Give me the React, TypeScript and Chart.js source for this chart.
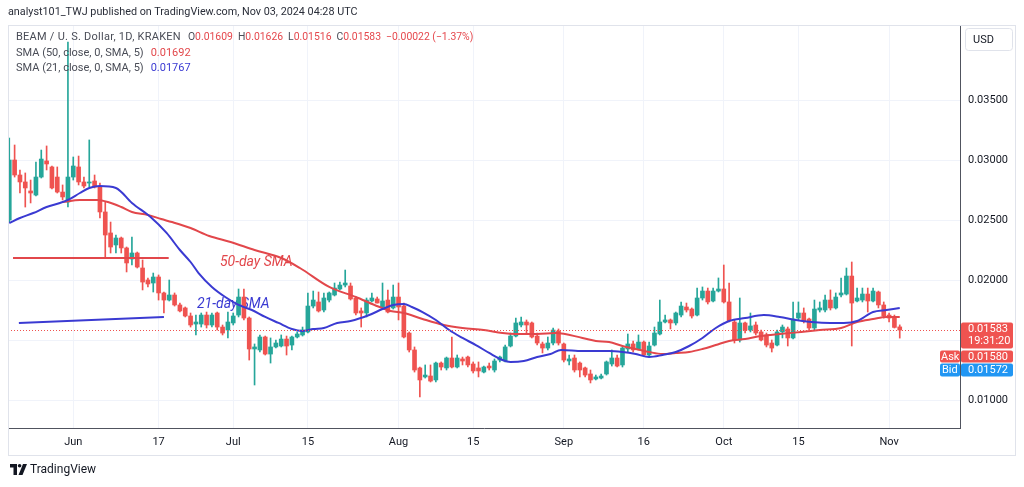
import React, { useEffect, useRef } from 'react';
import { Chart, registerables } from 'chart.js';

Chart.register(...registerables);

// Day index 0 = Jun 1, 2024. First visible candle is May 20 (day -12).
const FIRST_DAY = -12;

const openP = [
  0.025, 0.03, 0.02875, 0.02817, 0.02742, 0.02708, 0.02858, 0.02992, 0.02942, 0.02858,
  0.02733, 0.0265, 0.02858, 0.02942, 0.02817, 0.02808, 0.02825, 0.02775, 0.02567, 0.02392,
  0.02292, 0.0235, 0.02267, 0.02175, 0.02225, 0.021, 0.02, 0.01975, 0.02025, 0.01892,
  0.01833, 0.01875, 0.01792, 0.01767, 0.017, 0.01633, 0.01633, 0.01708, 0.01625, 0.01725,
  0.01608, 0.01583, 0.01642, 0.01708, 0.01858, 0.01683, 0.01425, 0.01417, 0.01525, 0.01383,
  0.01442, 0.0145, 0.01508, 0.01458, 0.01525, 0.01542, 0.01567, 0.01783, 0.01817, 0.0175,
  0.01833, 0.01875, 0.01925, 0.01958, 0.0195, 0.0185, 0.01742, 0.01725, 0.01825, 0.01842,
  0.01775, 0.01833, 0.01767, 0.01858, 0.01783, 0.01558, 0.01417, 0.01267, 0.01192, 0.012,
  0.01167, 0.01308, 0.01267, 0.0135, 0.01275, 0.01342, 0.01358, 0.013, 0.01267, 0.01233,
  0.01283, 0.0125, 0.01333, 0.01325, 0.0145, 0.01533, 0.01625, 0.0165, 0.01642, 0.01533,
  0.01467, 0.01433, 0.01475, 0.01575, 0.01467, 0.01325, 0.0135, 0.01308, 0.01267, 0.01217,
  0.01175, 0.01183, 0.01217, 0.013, 0.0135, 0.01292, 0.01425, 0.01467, 0.01425, 0.01483,
  0.01375, 0.01458, 0.0155, 0.0165, 0.01667, 0.01642, 0.01708, 0.01775, 0.01758, 0.01708,
  0.0185, 0.01908, 0.01825, 0.01908, 0.01925, 0.01817, 0.0165, 0.015, 0.01642, 0.01583,
  0.01625, 0.01567, 0.01542, 0.01475, 0.01458, 0.01567, 0.01592, 0.01517, 0.01683, 0.01725,
  0.01675, 0.016, 0.0175, 0.0175, 0.01833, 0.01767, 0.01875, 0.01883, 0.02033, 0.01825,
  0.01833, 0.01883, 0.01825, 0.019, 0.01792, 0.01708, 0.01683, 0.01609,
];
const highP = [
  0.03183, 0.03125, 0.02917, 0.02892, 0.02833, 0.02983, 0.03083, 0.03117, 0.0295, 0.02942,
  0.02792, 0.03983, 0.03025, 0.03033, 0.02858, 0.03167, 0.02875, 0.02808, 0.0265, 0.02483,
  0.02375, 0.02358, 0.02275, 0.02358, 0.02233, 0.02167, 0.02017, 0.02058, 0.02042, 0.019,
  0.02, 0.01892, 0.01808, 0.01775, 0.01725, 0.01708, 0.01725, 0.01733, 0.01725, 0.01733,
  0.01625, 0.01733, 0.01725, 0.01925, 0.01925, 0.01692, 0.01467, 0.01542, 0.01533, 0.01517,
  0.015, 0.01542, 0.01533, 0.01533, 0.01567, 0.01608, 0.01892, 0.01908, 0.019, 0.01892,
  0.019, 0.01975, 0.01983, 0.02083, 0.01975, 0.01858, 0.01767, 0.0185, 0.01892, 0.01858,
  0.01975, 0.01917, 0.01958, 0.01975, 0.01808, 0.01567, 0.01442, 0.01275, 0.01292, 0.01292,
  0.01317, 0.01317, 0.01358, 0.01525, 0.01375, 0.01358, 0.01367, 0.01317, 0.01317, 0.01283,
  0.01308, 0.01342, 0.01367, 0.01458, 0.01558, 0.01683, 0.01692, 0.01667, 0.0165, 0.01558,
  0.01483, 0.01525, 0.016, 0.01592, 0.01475, 0.01375, 0.01375, 0.01317, 0.01275, 0.0125,
  0.01208, 0.01217, 0.01325, 0.01417, 0.01375, 0.01442, 0.0155, 0.01492, 0.01542, 0.01492,
  0.01483, 0.01608, 0.01833, 0.01708, 0.01675, 0.01733, 0.01817, 0.01808, 0.01767, 0.01933,
  0.01942, 0.01933, 0.01933, 0.02017, 0.02125, 0.01975, 0.01667, 0.0185, 0.0165, 0.01725,
  0.0165, 0.01583, 0.01558, 0.015, 0.01583, 0.01625, 0.01608, 0.01817, 0.01817, 0.01767,
  0.01683, 0.01833, 0.01817, 0.01875, 0.01917, 0.01892, 0.02017, 0.021, 0.0215, 0.01933,
  0.01933, 0.01933, 0.01933, 0.01908, 0.01817, 0.01725, 0.01708, 0.01626,
];
const lowP = [
  0.02483, 0.02858, 0.02725, 0.02608, 0.02642, 0.027, 0.0285, 0.02917, 0.02758, 0.02725,
  0.02667, 0.02608, 0.02833, 0.02792, 0.02767, 0.02775, 0.02767, 0.02517, 0.02192, 0.02225,
  0.02225, 0.02225, 0.02067, 0.02125, 0.021, 0.01917, 0.01942, 0.019, 0.01833, 0.01725,
  0.01825, 0.01783, 0.01733, 0.01692, 0.01608, 0.01542, 0.01608, 0.016, 0.01608, 0.01583,
  0.01542, 0.01517, 0.01625, 0.01692, 0.01667, 0.01333, 0.01125, 0.014, 0.01375, 0.01308,
  0.01433, 0.01442, 0.01375, 0.01417, 0.01517, 0.01533, 0.01558, 0.01767, 0.01733, 0.01733,
  0.01817, 0.01867, 0.01917, 0.01942, 0.01833, 0.01708, 0.01608, 0.01692, 0.01817, 0.01808,
  0.01767, 0.01725, 0.01758, 0.01667, 0.01517, 0.014, 0.01233, 0.01025, 0.01183, 0.0115,
  0.0115, 0.0125, 0.0125, 0.01267, 0.01267, 0.01292, 0.01275, 0.01225, 0.01192, 0.01225,
  0.0125, 0.01233, 0.01317, 0.01317, 0.01442, 0.01525, 0.01608, 0.01558, 0.01517, 0.01458,
  0.01392, 0.01417, 0.01458, 0.01458, 0.01317, 0.01292, 0.01233, 0.01192, 0.01192, 0.01142,
  0.01167, 0.01175, 0.01208, 0.01283, 0.01275, 0.01275, 0.014, 0.014, 0.01417, 0.01367,
  0.01358, 0.0145, 0.01542, 0.01642, 0.01592, 0.01625, 0.01692, 0.01733, 0.01683, 0.017,
  0.01833, 0.018, 0.01817, 0.019, 0.01808, 0.0165, 0.01475, 0.01483, 0.01558, 0.01567,
  0.01542, 0.01492, 0.01442, 0.014, 0.0145, 0.01517, 0.0145, 0.01508, 0.01667, 0.01642,
  0.01583, 0.01583, 0.01733, 0.01733, 0.0175, 0.01758, 0.01858, 0.01875, 0.0145, 0.01817,
  0.01817, 0.01733, 0.01817, 0.01767, 0.01683, 0.0165, 0.016, 0.01516,
];
const closeP = [
  0.03, 0.02875, 0.02817, 0.02767, 0.02725, 0.02858, 0.03008, 0.02967, 0.02767, 0.02733,
  0.02692, 0.02858, 0.0295, 0.02817, 0.02783, 0.02817, 0.02775, 0.02567, 0.02375, 0.02275,
  0.0235, 0.02267, 0.02142, 0.02225, 0.02108, 0.01983, 0.01967, 0.02025, 0.01892, 0.01833,
  0.01875, 0.01792, 0.01742, 0.017, 0.01625, 0.0165, 0.01708, 0.01625, 0.01708, 0.01608,
  0.01558, 0.0165, 0.017, 0.01858, 0.01683, 0.01425, 0.01442, 0.01525, 0.01383, 0.01442,
  0.01475, 0.01508, 0.0145, 0.01525, 0.0155, 0.01583, 0.01783, 0.01833, 0.01742, 0.0185,
  0.01892, 0.01933, 0.01958, 0.01975, 0.01842, 0.01725, 0.01725, 0.01833, 0.0185, 0.01808,
  0.01825, 0.01733, 0.01858, 0.01775, 0.01525, 0.01417, 0.0125, 0.01167, 0.01208, 0.01158,
  0.01308, 0.01275, 0.0135, 0.01275, 0.0135, 0.01325, 0.01292, 0.01242, 0.01242, 0.01275,
  0.01267, 0.01325, 0.01358, 0.01442, 0.01533, 0.01642, 0.0165, 0.01625, 0.01525, 0.01475,
  0.01433, 0.01475, 0.01583, 0.01475, 0.01333, 0.01342, 0.0125, 0.0125, 0.01208, 0.01167,
  0.01192, 0.012, 0.01317, 0.0135, 0.01283, 0.01433, 0.01467, 0.01417, 0.01483, 0.01375,
  0.0145, 0.01558, 0.0165, 0.01667, 0.01642, 0.01725, 0.01783, 0.0175, 0.017, 0.0185,
  0.01908, 0.01817, 0.01908, 0.01925, 0.01817, 0.01658, 0.015, 0.01642, 0.01583, 0.01617,
  0.01558, 0.015, 0.01458, 0.01433, 0.01567, 0.01608, 0.01517, 0.01675, 0.01725, 0.01658,
  0.016, 0.01758, 0.01767, 0.01833, 0.01767, 0.01858, 0.01892, 0.02033, 0.01808, 0.0185,
  0.01883, 0.01825, 0.01908, 0.01792, 0.017, 0.01683, 0.01605, 0.01583,
];

// SMA readings (day index, price)
const sma21Days = [
  -12, -10, -7.5, -5, -2.5, -1, 1.25, 3, 5, 8, 11, 14.5, 17.5, 20, 22, 23.5, 26, 28.5, 31, 33.5,
  36, 38.5, 41, 43, 45, 47, 49.5, 52, 55.5, 58, 60, 62, 63.5, 65.5, 68, 70.5, 73, 75.5, 78, 80.5,
  82, 84.5, 87, 89.5, 91.5, 95.5, 98, 100.5, 103, 105.5, 108, 110.5, 113, 115.5, 118, 120.5, 123,
  126, 129.5, 132.5, 135.5, 138.5, 142, 144.5, 147, 150, 152.5, 155,
];
const sma21 = [
  0.02475, 0.02517, 0.02558, 0.02608, 0.02642, 0.02667, 0.02725, 0.02767, 0.02783, 0.02767,
  0.02642, 0.02525, 0.02392, 0.0225, 0.0215, 0.02058, 0.01942, 0.01858, 0.01792, 0.0175,
  0.01692, 0.01642, 0.01592, 0.01575, 0.01592, 0.016, 0.01642, 0.01658, 0.01708, 0.01758,
  0.01792, 0.018, 0.01775, 0.01733, 0.01667, 0.01583, 0.01517, 0.01458, 0.01392, 0.01333,
  0.01317, 0.01325, 0.01358, 0.01383, 0.01417, 0.01408, 0.01408, 0.01408, 0.014, 0.01383,
  0.01358, 0.01375, 0.014, 0.0145, 0.01517, 0.016, 0.01658, 0.01683, 0.01708, 0.01692,
  0.01667, 0.0165, 0.01642, 0.01642, 0.01658, 0.01733, 0.0175, 0.01767,
];
const sma50Days = [
  -2, 1.25, 4.5, 6.5, 9, 11, 14, 16.5, 18.5, 22, 25.5, 29.5, 34, 39, 42.5, 48, 53, 56.5, 59.5, 62,
  65.5, 69.5, 73, 77, 80.5, 83, 87, 90.5, 95.5, 98, 100.5, 103, 105.5, 108, 110.5, 113, 115.5,
  118, 120.5, 123, 126, 129, 132.5, 136.5, 140, 144, 147, 150, 152.5, 155,
];
const sma50 = [
  0.0265, 0.02667, 0.02667, 0.0265, 0.02608, 0.02567, 0.02542, 0.02508, 0.02483, 0.02433,
  0.02367, 0.02317, 0.0225, 0.02183, 0.021, 0.01942, 0.01858, 0.01792, 0.01742, 0.01725,
  0.01675, 0.01625, 0.016, 0.01583, 0.01558, 0.0155, 0.0155, 0.01558, 0.01517, 0.01492,
  0.01483, 0.0145, 0.01425, 0.014, 0.01383, 0.01392, 0.014, 0.01425, 0.01458, 0.01492,
  0.01508, 0.01533, 0.0155, 0.01567, 0.01583, 0.016, 0.0165, 0.01675, 0.01692, 0.01692,
];

// Hand-drawn annotation lines
const redNoteDays = [-11.3, 17.9];
const redNotePrices = [0.02183, 0.02183];
const blueNoteDays = [-10.2, 17.0];
const blueNotePrices = [0.01642, 0.01692];

const tickDays = [0, 16, 30, 44, 61, 75, 92, 107, 122, 136, 153];
const tickLabels = ['Jun', '17', 'Jul', '15', 'Aug', '15', 'Sep', '16', 'Oct', '15', 'Nov'];
const priceTicks = [0.01, 0.015, 0.02, 0.025, 0.03, 0.035];

const askPrice = 0.0158;
const bidPrice = 0.01572;
const countdown = '19:31:20';

const UP = '#26a69a';
const DOWN = '#ef5350';
const SMA50_COLOR = '#e2474b';
const SMA21_COLOR = '#3a3ad2';
const FONT = 'Roboto, "Open Sans", sans-serif';

function roundRect(ctx: CanvasRenderingContext2D, x: number, y: number, w: number, h: number, r: number) {
  ctx.beginPath();
  ctx.moveTo(x + r, y);
  ctx.lineTo(x + w - r, y);
  ctx.quadraticCurveTo(x + w, y, x + w, y + r);
  ctx.lineTo(x + w, y + h - r);
  ctx.quadraticCurveTo(x + w, y + h, x + w - r, y + h);
  ctx.lineTo(x + r, y + h);
  ctx.quadraticCurveTo(x, y + h, x, y + h - r);
  ctx.lineTo(x, y + r);
  ctx.quadraticCurveTo(x, y, x + r, y);
  ctx.closePath();
}

const overlayPlugin = {
  id: 'tvOverlay',
  beforeDatasetsDraw(chart: any) {
    const { ctx, scales } = chart;
    const x = scales.x;
    const y = scales.y;
    ctx.save();
    ctx.font = `italic 14px ${FONT}`;
    ctx.textBaseline = 'middle';
    ctx.textAlign = 'left';
    ctx.fillStyle = SMA50_COLOR;
    ctx.fillText('50-day SMA', x.getPixelForValue(27.5), y.getPixelForValue(0.02142));
    ctx.fillStyle = SMA21_COLOR;
    ctx.fillText('21-day SMA', x.getPixelForValue(23.2), y.getPixelForValue(0.018));
    ctx.restore();
  },
  afterDraw(chart: any) {
    const { ctx, chartArea, scales } = chart;
    const y = scales.y;
    const last = closeP[closeP.length - 1];
    const py = Math.round(y.getPixelForValue(last)) + 0.5;
    ctx.save();
    // dotted current price line
    ctx.strokeStyle = DOWN;
    ctx.lineWidth = 1;
    ctx.setLineDash([1, 2]);
    ctx.beginPath();
    ctx.moveTo(chartArea.left, py);
    ctx.lineTo(chartArea.right, py);
    ctx.stroke();
    ctx.setLineDash([]);

    // outer frame
    ctx.strokeStyle = '#e0e3eb';
    ctx.strokeRect(8.5, 25.5, 1007, 430);

    const ax = chartArea.right + 1;
    ctx.font = `11px ${FONT}`;
    ctx.textBaseline = 'middle';
    ctx.textAlign = 'left';

    // last price box
    ctx.fillStyle = DOWN;
    roundRect(ctx, ax, py - 8, 52, 26, 2);
    ctx.fill();
    ctx.fillStyle = '#ffffff';
    ctx.fillText(last.toFixed(5), ax + 7, py - 1);
    ctx.fillText(countdown, ax + 7, py + 11);

    // Ask
    const askY = py + 20;
    ctx.fillStyle = DOWN;
    roundRect(ctx, ax - 21, askY, 20, 12, 2);
    ctx.fill();
    roundRect(ctx, ax, askY, 52, 12, 2);
    ctx.fill();
    ctx.fillStyle = '#ffffff';
    ctx.fillText('Ask', ax - 20, askY + 6.5);
    ctx.fillText(askPrice.toFixed(5), ax + 7, askY + 6.5);

    // Bid
    const bidY = py + 33;
    ctx.fillStyle = '#2196f3';
    roundRect(ctx, ax - 21, bidY, 20, 13, 2);
    ctx.fill();
    roundRect(ctx, ax, bidY, 52, 13, 2);
    ctx.fill();
    ctx.fillStyle = '#ffffff';
    ctx.fillText('Bid', ax - 19, bidY + 7);
    ctx.fillText(bidPrice.toFixed(5), ax + 7, bidY + 7);

    // USD box
    ctx.fillStyle = '#ffffff';
    ctx.strokeStyle = '#e0e3eb';
    roundRect(ctx, 965.5, 28.5, 47, 22, 3);
    ctx.fill();
    ctx.stroke();
    ctx.fillStyle = '#131722';
    ctx.fillText('USD', 973, 40);
    ctx.restore();
  },
};

export default function App() {
  const ref = useRef<HTMLCanvasElement>(null);

  useEffect(() => {
    document.body.style.margin = '0';
    if (!ref.current) return;
    const days = openP.map((_, i) => FIRST_DAY + i);
    const colors = days.map((_, i) => (closeP[i] >= openP[i] ? UP : DOWN));

    const chart = new Chart(ref.current, {
      type: 'bar',
      data: {
        datasets: [
          {
            type: 'line',
            label: 'SMA 21',
            data: sma21Days.map((d, i) => ({ x: d, y: sma21[i] })),
            borderColor: SMA21_COLOR,
            borderWidth: 2,
            pointRadius: 0,
            cubicInterpolationMode: 'monotone',
            order: 0,
          },
          {
            type: 'line',
            label: 'SMA 50',
            data: sma50Days.map((d, i) => ({ x: d, y: sma50[i] })),
            borderColor: SMA50_COLOR,
            borderWidth: 2,
            pointRadius: 0,
            cubicInterpolationMode: 'monotone',
            order: 1,
          },
          {
            type: 'line',
            label: 'red note',
            data: redNoteDays.map((d, i) => ({ x: d, y: redNotePrices[i] })),
            borderColor: SMA50_COLOR,
            borderWidth: 2,
            pointRadius: 0,
            order: 0,
          },
          {
            type: 'line',
            label: 'blue note',
            data: blueNoteDays.map((d, i) => ({ x: d, y: blueNotePrices[i] })),
            borderColor: SMA21_COLOR,
            borderWidth: 2,
            pointRadius: 0,
            order: 0,
          },
          {
            type: 'bar',
            label: 'body',
            data: days.map((d, i) => ({ x: d, y: [openP[i], closeP[i]] })),
            backgroundColor: colors,
            barThickness: 4,
            grouped: false,
            minBarLength: 1,
            order: 3,
          },
          {
            type: 'bar',
            label: 'wick',
            data: days.map((d, i) => ({ x: d, y: [lowP[i], highP[i]] })),
            backgroundColor: colors,
            barThickness: 1,
            grouped: false,
            order: 4,
          },
        ] as any,
      },
      options: {
        responsive: false,
        animation: false,
        maintainAspectRatio: false,
        layout: { padding: { left: 8, top: 25, right: 0, bottom: 32 } },
        plugins: { legend: { display: false }, tooltip: { enabled: false } },
        scales: {
          x: {
            type: 'linear',
            min: -12.24,
            max: 166.3,
            offset: false,
            afterBuildTicks: (s: any) => {
              s.ticks = tickDays.map((v) => ({ value: v }));
            },
            afterFit: (s: any) => {
              s.height = 27;
            },
            ticks: {
              autoSkip: false,
              maxRotation: 0,
              padding: 8,
              color: '#131722',
              font: { size: 11, family: FONT },
              callback: (_v: any, i: number) => tickLabels[i],
            },
            grid: { color: '#f0f3fa', drawTicks: false, offset: false },
            border: { color: '#50535e', width: 1 },
          },
          y: {
            type: 'linear',
            position: 'right',
            min: 0.0076667,
            max: 0.04125,
            afterBuildTicks: (s: any) => {
              s.ticks = priceTicks.map((v) => ({ value: v }));
            },
            afterFit: (s: any) => {
              s.width = 64;
            },
            ticks: {
              padding: 8,
              color: '#131722',
              font: { size: 11, family: FONT },
              callback: (v: any) => Number(v).toFixed(5),
            },
            grid: { color: '#f0f3fa', drawTicks: false },
            border: { color: '#50535e', width: 1 },
          },
        },
      },
      plugins: [overlayPlugin],
    } as any);
    return () => chart.destroy();
  }, []);

  const label: React.CSSProperties = { color: '#4a4d57' };
  const red: React.CSSProperties = { color: '#e5484d' };
  const val: React.CSSProperties = { fontSize: 10.4 };

  return (
    <div style={{ position: 'relative', width: 1024, height: 487, background: '#ffffff', fontFamily: FONT, overflow: 'hidden' }}>
      <canvas ref={ref} width={1024} height={487} style={{ position: 'absolute', left: 0, top: 0, width: 1024, height: 487 }} />
      <div style={{ position: 'absolute', left: 8, top: 5, fontSize: 10.8, color: '#2a2e39', whiteSpace: 'nowrap' }}>
        analyst101_TWJ published on TradingView.com, Nov 03, 2024 04:28 UTC
      </div>
      <div style={{ position: 'absolute', left: 16, top: 29, fontSize: 11, whiteSpace: 'nowrap', lineHeight: '15px' }}>
        <div>
          <span style={{ ...label, letterSpacing: 0.25 }}>BEAM / U. S. Dollar, 1D, KRAKEN</span>
          <span style={{ ...label, ...val, marginLeft: 7 }}>O</span><span style={{ ...red, ...val }}>0.01609</span>
          <span style={{ ...label, ...val, marginLeft: 5 }}>H</span><span style={{ ...red, ...val }}>0.01626</span>
          <span style={{ ...label, ...val, marginLeft: 5 }}>L</span><span style={{ ...red, ...val }}>0.01516</span>
          <span style={{ ...label, ...val, marginLeft: 5 }}>C</span><span style={{ ...red, ...val }}>0.01583</span>
          <span style={{ ...red, ...val, marginLeft: 5 }}>−0.00022 (−1.37%)</span>
        </div>
        <div style={{ marginTop: 1 }}>
          <span style={label}>SMA (50, close, 0, SMA, 5)</span>
          <span style={{ color: SMA50_COLOR, marginLeft: 7 }}>0.01692</span>
        </div>
        <div style={{ marginTop: 0 }}>
          <span style={label}>SMA (21, close, 0, SMA, 5)</span>
          <span style={{ color: SMA21_COLOR, marginLeft: 7 }}>0.01767</span>
        </div>
      </div>
      <div style={{ position: 'absolute', left: 10, top: 462, display: 'flex', alignItems: 'center', whiteSpace: 'nowrap' }}>
        <svg width="17" height="11" viewBox="0 0 17 11">
          <path d="M0 0 H7 V11 H3.5 V3.5 H0 Z" fill="#131722" />
          <circle cx="9.6" cy="1.8" r="1.8" fill="#131722" />
          <path d="M13 0 H17 L12.5 11 H8.5 Z" fill="#131722" />
        </svg>
        <span style={{ marginLeft: 3, fontSize: 12, color: '#131722' }}>TradingView</span>
      </div>
    </div>
  );
}
